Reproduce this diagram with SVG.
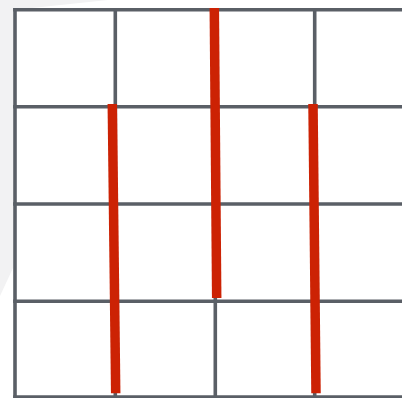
<svg xmlns="http://www.w3.org/2000/svg" width="402" height="398" viewBox="0 0 402 398">
<style>
.grid{stroke:#5a5f66;stroke-width:3.6;fill:none}
.red{stroke:#cc2204;stroke-width:9.5;stroke-linecap:butt}
</style>
<rect width="402" height="398" fill="#ffffff"/>
<polygon points="0,0 108,0 13,10 13,268 0,296" fill="#f2f2f3"/>
<rect x="15" y="9.7" width="400" height="388" fill="#ffffff"/>
<g id="grid" class="grid">
<line x1="15" y1="8" x2="15" y2="399"/>
<line x1="115.3" y1="8" x2="115.3" y2="399"/>
<line x1="215.3" y1="8" x2="215.3" y2="399"/>
<line x1="314.7" y1="8" x2="314.7" y2="399"/>
<line x1="13.2" y1="9.7" x2="402" y2="9.7"/>
<line x1="13.2" y1="106.7" x2="402" y2="106.7"/>
<line x1="13.2" y1="204" x2="402" y2="204"/>
<line x1="13.2" y1="301.3" x2="402" y2="301.3"/>
<line x1="13.2" y1="397" x2="402" y2="397"/>
</g>
<g id="connectors">
<line class="red" x1="112.3" y1="104" x2="115.7" y2="393.3"/>
<line class="red" x1="214.3" y1="8" x2="216.7" y2="298"/>
<line class="red" x1="313" y1="104" x2="316" y2="393.3"/>
</g>
</svg>
